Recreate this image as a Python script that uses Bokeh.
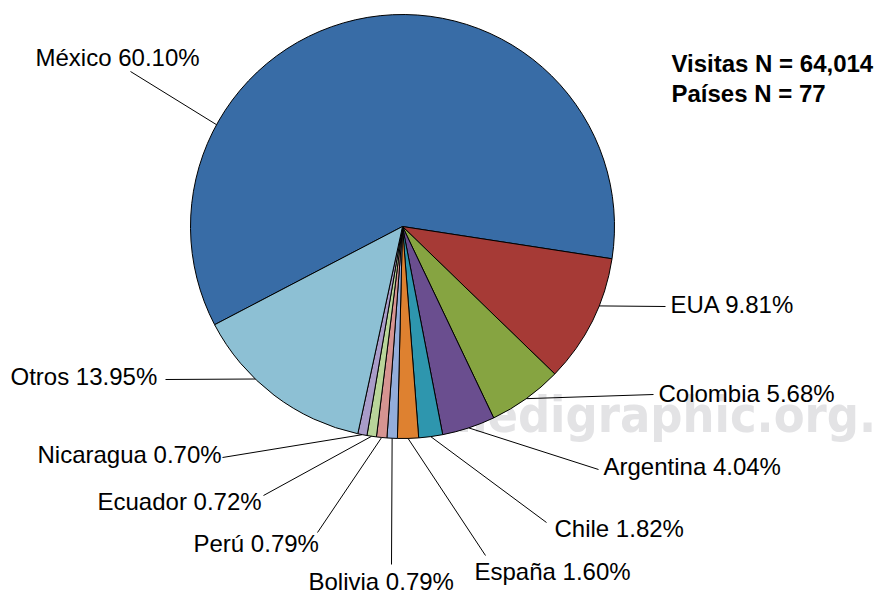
import math
from bokeh.plotting import figure
from bokeh.models import ColumnDataSource, Range1d
from bokeh.core.properties import value
from bokeh.embed import file_html
from bokeh.resources import INLINE

# ---------------- data ----------------
countries = ["México", "EUA", "Colombia", "Argentina", "Chile", "España",
             "Bolivia", "Perú", "Ecuador", "Nicaragua", "Otros"]
percents = [60.10, 9.81, 5.68, 4.04, 1.82, 1.60, 0.79, 0.79, 0.72, 0.70, 13.95]
colors = ["#386CA6", "#A63A36", "#86A441", "#6A4E8F", "#2E96AE", "#DE8130",
          "#93ADDB", "#D69491", "#B9D59A", "#A99CC9", "#8DC0D4"]
visitas_n = "64,014"
paises_n = "77"
watermark = "medigraphic.org."

# ---------------- layout (screen px) ----------------
W, H = 875, 596
CX, CY, R = 402, 226, 212
START_DEG = 207.6          # México starts here, slices run clockwise
TXT_SHIFT = 9              # baseline correction for 24px text

# label left x and baseline y
label_pos = {
    "México": (35, 66), "EUA": (670, 313), "Colombia": (658, 402),
    "Argentina": (603, 475), "Chile": (554, 537), "España": (474, 580),
    "Bolivia": (308, 590), "Perú": (193, 552), "Ecuador": (97, 510),
    "Nicaragua": (37, 463), "Otros": (10, 385),
}
# leader line end next to the label
leader_end = {
    "México": (130, 71), "EUA": (665, 306), "Colombia": (653, 394),
    "Argentina": (598, 469), "Chile": (546, 522), "España": (485, 555),
    "Bolivia": (391, 564), "Perú": (317, 532), "Ecuador": (263, 495),
    "Nicaragua": (222, 457), "Otros": (165, 379),
}
leader_angle_override = {"México": 151.3, "EUA": -22.0, "Otros": -134.0}

# ---------------- geometry from data ----------------
starts, ends, mids = [], [], []
a = START_DEG
for pct in percents:
    span = pct / 100.0 * 360.0
    starts.append(a)
    ends.append(a - span)
    mids.append(a - span / 2)
    a -= span

wedge_src = ColumnDataSource(dict(
    x=[CX] * len(countries), y=[-CY] * len(countries),
    start=[math.radians(e) for e in ends],
    end=[math.radians(s) for s in starts],
    color=colors,
))

lx0, ly0, lx1, ly1 = [], [], [], []
for c, m in zip(countries, mids):
    ang = math.radians(leader_angle_override.get(c, m))
    lx0.append(CX + R * math.cos(ang))
    ly0.append(-CY + R * math.sin(ang))
    ex, ey = leader_end[c]
    lx1.append(ex)
    ly1.append(-ey)

labels = [f"{c} {p:.2f}%" for c, p in zip(countries, percents)]
text_src = ColumnDataSource(dict(
    x=[label_pos[c][0] for c in countries],
    y=[-(label_pos[c][1] - TXT_SHIFT) for c in countries],
    text=labels,
))

p = figure(width=W, height=H,
           x_range=Range1d(0, W), y_range=Range1d(-H, 0),
           output_backend="svg", toolbar_location=None,
           x_axis_type=None, y_axis_type=None, min_border=0)
p.outline_line_color = None
p.grid.visible = False
p.background_fill_color = "white"
p.border_fill_color = "white"

# watermark behind the pie
p.text(x=[440], y=[-414], text=[watermark],
       text_font=value("'DejaVu Sans Condensed', 'Liberation Sans'"),
       text_font_style="bold",
       text_font_size="50px", text_color="#E3E3E5",
       text_baseline="alphabetic", text_align="left")

p.wedge(x="x", y="y", radius=R, start_angle="start", end_angle="end",
        direction="anticlock", fill_color="color", line_color="black",
        line_width=1, source=wedge_src)

p.segment(x0=lx0, y0=ly0, x1=lx1, y1=ly1, line_color="black", line_width=1)

p.text(x="x", y="y", text="text", source=text_src,
       text_font=value("Liberation Sans"), text_font_size="24px",
       text_color="black", text_baseline="alphabetic", text_align="left")

p.text(x=[671, 671], y=[-(72 - TXT_SHIFT), -(102 - TXT_SHIFT)],
       text=[f"Visitas N = {visitas_n}", f"Países N = {paises_n}"],
       text_font=value("Liberation Sans"), text_font_style="bold",
       text_font_size="24px", text_color="black",
       text_baseline="alphabetic", text_align="left")

open("out.html", "w").write(file_html(p, INLINE))
